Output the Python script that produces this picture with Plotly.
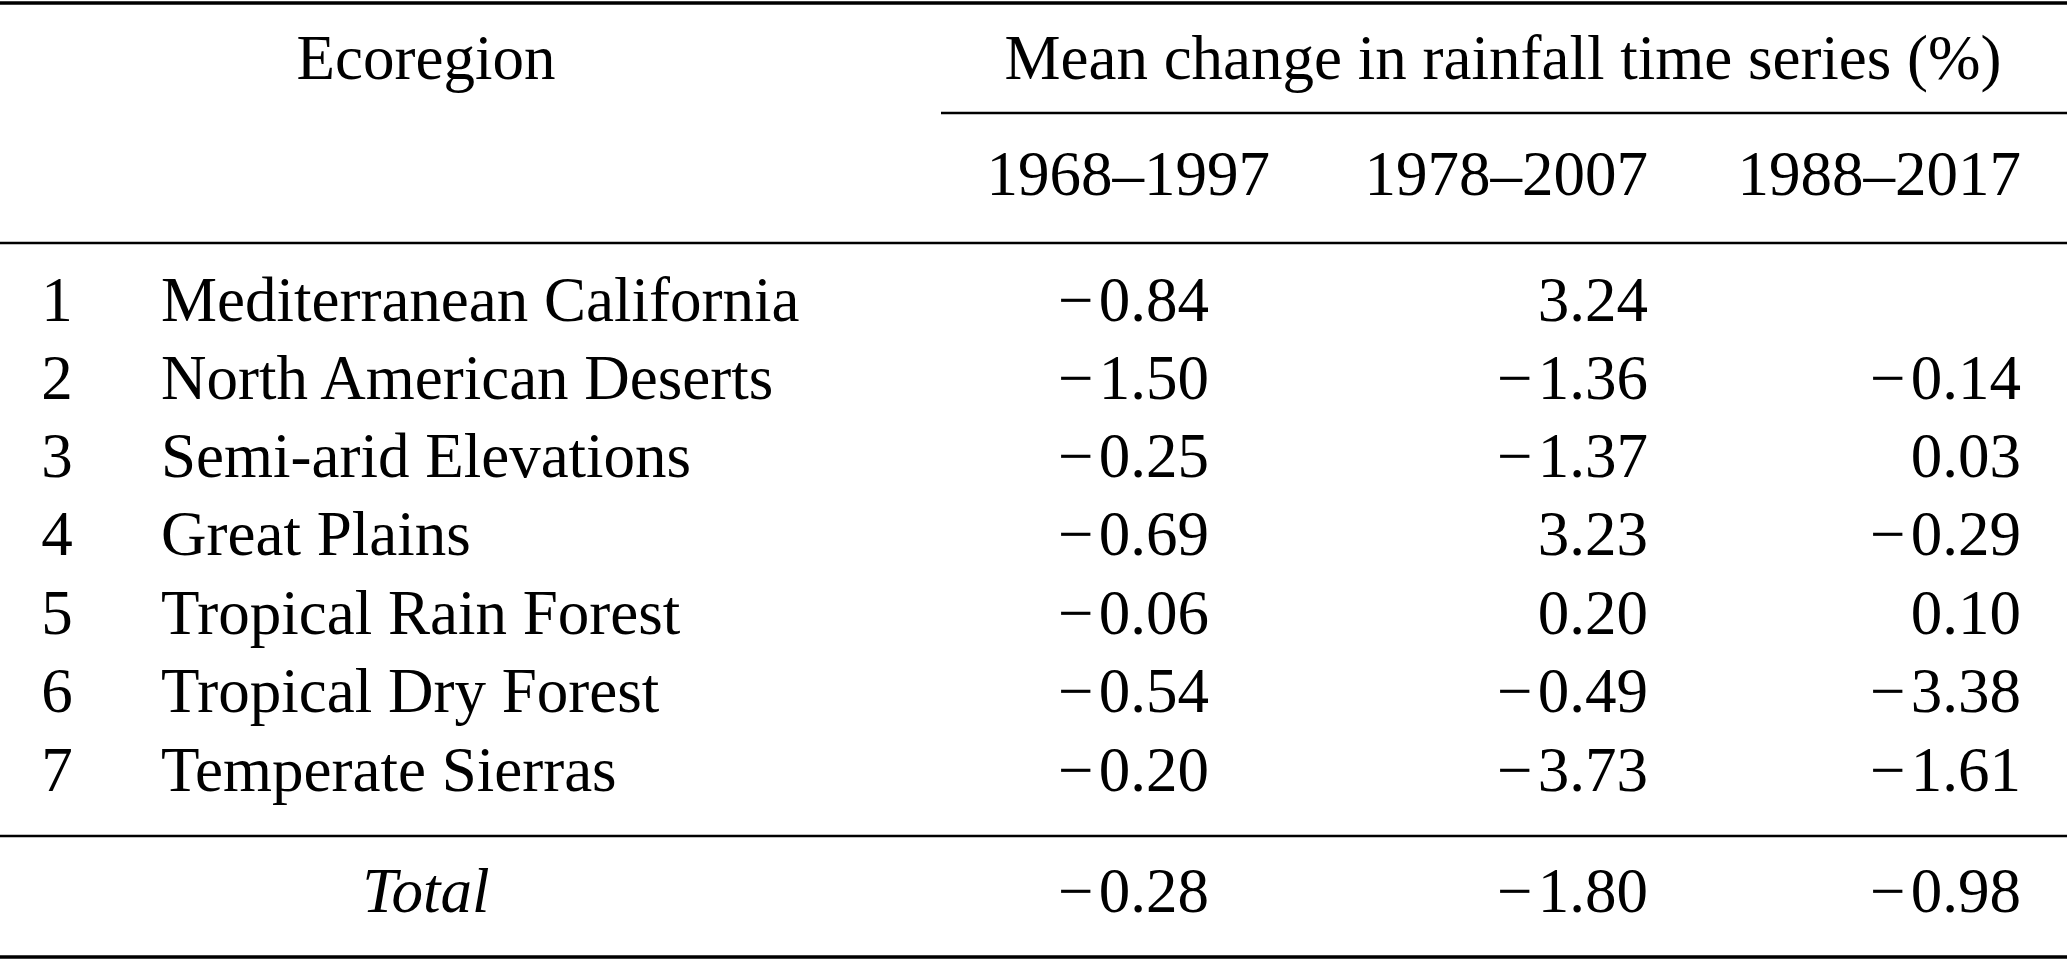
import plotly.graph_objects as go

# table content
region_ids = ["1", "2", "3", "4", "5", "6", "7"]
regions = ["Mediterranean California", "North American Deserts", "Semi-arid Elevations",
           "Great Plains", "Tropical Rain Forest", "Tropical Dry Forest", "Temperate Sierras"]
periods = ["1968–1997", "1978–2007", "1988–2017"]
change_1968_1997 = [-0.84, -1.50, -0.25, -0.69, -0.06, -0.54, -0.20]
change_1978_2007 = [3.24, -1.36, -1.37, 3.23, 0.20, -0.49, -3.73]
change_1988_2017 = [None, -0.14, 0.03, -0.29, 0.10, -3.38, -1.61]
totals = [-0.28, -1.80, -0.98]

W, H = 2067, 961
FONT = dict(family="Liberation Serif, Times New Roman, serif", size=63, color="black")

# layout in pixel space (y grows downward)
row_y = [305, 383, 461, 539, 618, 696, 775]
col_right = [1209, 1648, 2021]
head_right = [1270, 1648, 2021]
id_x, name_x, head_x = 57, 161, 426
# minus sign plus a hair space, closer to the TeX minus width
MINUS = "\u2212\u200a"


def fmt(v):
    if v is None:
        return ""
    s = f"{abs(v):.2f}"
    return (MINUS + s) if v < 0 else s


fig = go.Figure()

# header
fig.add_trace(go.Scatter(x=[head_x, 1503], y=[63, 63], mode="text",
                         text=["Ecoregion", "Mean change in rainfall time series (%)"],
                         textposition="middle center", textfont=FONT))
fig.add_trace(go.Scatter(x=head_right, y=[179] * 3, mode="text", text=periods,
                         textposition="middle left", textfont=FONT))

# body
fig.add_trace(go.Scatter(x=[id_x] * len(region_ids), y=row_y, mode="text", text=region_ids,
                         textposition="middle center", textfont=FONT))
fig.add_trace(go.Scatter(x=[name_x] * len(regions), y=row_y, mode="text", text=regions,
                         textposition="middle right", textfont=FONT))
for cx, col in zip(col_right, [change_1968_1997, change_1978_2007, change_1988_2017]):
    fig.add_trace(go.Scatter(x=[cx] * len(col), y=row_y, mode="text",
                             text=[fmt(v) for v in col],
                             textposition="middle left", textfont=FONT))

# total row
fig.add_trace(go.Scatter(x=[head_x], y=[896], mode="text", text=["<i>Total</i>"],
                         textposition="middle center", textfont=FONT))
fig.add_trace(go.Scatter(x=col_right, y=[896] * 3, mode="text",
                         text=[fmt(v) for v in totals],
                         textposition="middle left", textfont=FONT))

# rules
rules = [(0, W, 3, 3.5), (941, W, 113, 2.5), (0, W, 243, 2.5), (0, W, 836, 2.5), (0, W, 957, 3.5)]
for x0, x1, y, w in rules:
    fig.add_shape(type="line", x0=x0, x1=x1, y0=y, y1=y, line=dict(color="black", width=w))

fig.update_layout(
    width=W, height=H, margin=dict(l=0, r=0, t=0, b=0),
    paper_bgcolor="white", plot_bgcolor="white", showlegend=False,
    xaxis=dict(range=[0, W], visible=False, fixedrange=True),
    yaxis=dict(range=[H, 0], visible=False, fixedrange=True),
)

fig.write_html("out.html", config={"displayModeBar": False},
               post_script="document.body.style.margin='0';")
